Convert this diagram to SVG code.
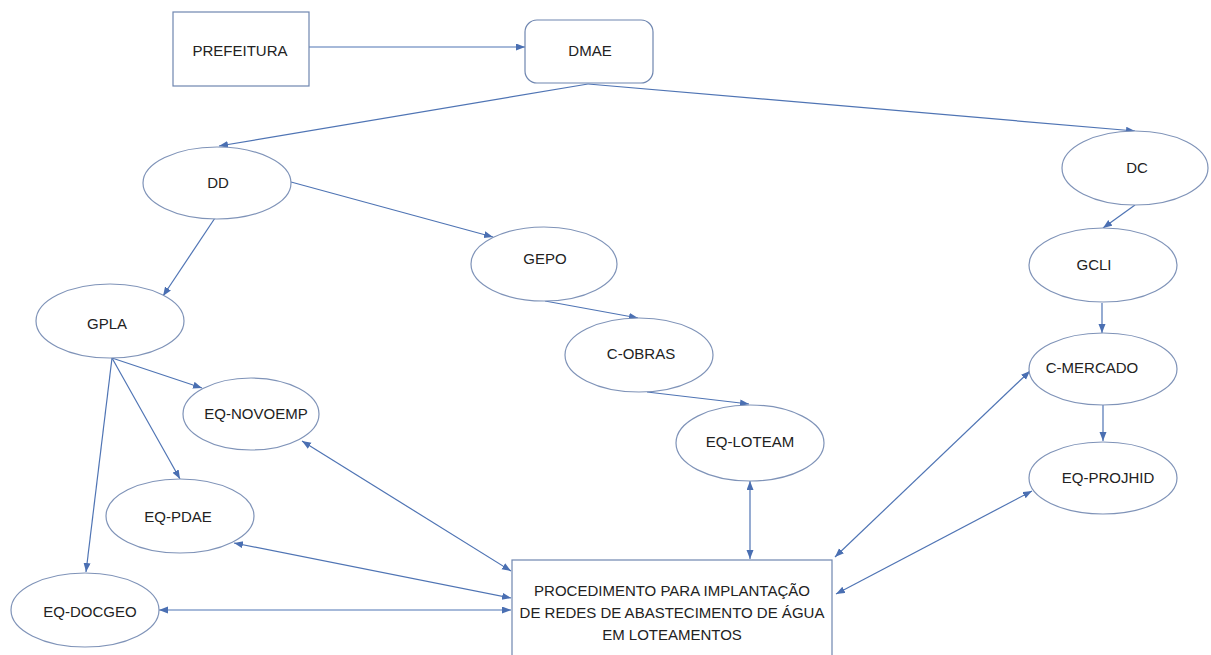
<svg xmlns="http://www.w3.org/2000/svg" width="1211" height="655" viewBox="0 0 1211 655">
  <style>
    .shape { fill: #ffffff; stroke: #7f93b8; stroke-width: 1.2; }
    .box { fill: #ffffff; stroke: #6f86b0; stroke-width: 1.2; }
    .lbl { font-family: "Liberation Sans", Arial, sans-serif; font-size: 15px; fill: #222222; text-anchor: middle; dominant-baseline: central; }
    .edge { fill: none; stroke: #4f74b4; stroke-width: 1.2; }
    .one { marker-end: url(#head); }
    .two { marker-start: url(#head); marker-end: url(#head); }
  </style>
  <defs>
    <marker id="head" markerUnits="userSpaceOnUse" markerWidth="10" markerHeight="8" refX="9" refY="3.5" orient="auto-start-reverse">
      <path d="M0,0 L9,3.5 L0,7 z" fill="#4a6fb2"/>
    </marker>
  </defs>

  <rect width="1211" height="655" fill="#ffffff"/>

  <!-- connectors -->
  <g id="connectors">
    <line class="edge one" x1="309" y1="47" x2="525" y2="47"/>
    <line class="edge one" x1="588" y1="84" x2="219" y2="146"/>
    <line class="edge one" x1="588" y1="84" x2="1135" y2="131"/>
    <line class="edge one" x1="215" y1="218" x2="163" y2="296"/>
    <line class="edge one" x1="291" y1="182" x2="493" y2="237"/>
    <line class="edge one" x1="545" y1="301" x2="638" y2="318"/>
    <line class="edge one" x1="647" y1="392" x2="749" y2="404"/>
    <line class="edge one" x1="1135" y1="205" x2="1103" y2="228"/>
    <line class="edge one" x1="1102" y1="303" x2="1102" y2="333"/>
    <line class="edge one" x1="1103" y1="405" x2="1103" y2="441"/>
    <line class="edge one" x1="112" y1="358" x2="202" y2="388"/>
    <line class="edge one" x1="112" y1="358" x2="180" y2="479"/>
    <line class="edge one" x1="112" y1="358" x2="86" y2="572"/>
    <line class="edge two" x1="302" y1="441" x2="511" y2="571"/>
    <line class="edge two" x1="234" y1="543" x2="511" y2="598"/>
    <line class="edge two" x1="159" y1="610" x2="511" y2="610"/>
    <line class="edge two" x1="750" y1="481" x2="750" y2="559"/>
    <line class="edge two" x1="835" y1="557" x2="1030" y2="371"/>
    <line class="edge two" x1="836" y1="594" x2="1032" y2="491"/>
  </g>

  <g id="prefeitura">
    <rect class="box" x="173" y="12" width="136" height="74"/>
    <text class="lbl" x="240" y="50">PREFEITURA</text>
  </g>
  <g id="dmae">
    <rect class="box" x="525" y="20" width="128" height="63" rx="12" ry="12"/>
    <text class="lbl" x="590" y="50">DMAE</text>
  </g>
  <g id="dd">
    <ellipse class="shape" cx="217" cy="183" rx="74" ry="36"/>
    <text class="lbl" x="218" y="182">DD</text>
  </g>
  <g id="dc">
    <ellipse class="shape" cx="1135" cy="168" rx="73" ry="37"/>
    <text class="lbl" x="1137" y="167">DC</text>
  </g>
  <g id="gpla">
    <ellipse class="shape" cx="110" cy="321" rx="74" ry="37"/>
    <text class="lbl" x="107" y="323">GPLA</text>
  </g>
  <g id="gepo">
    <ellipse class="shape" cx="544" cy="264" rx="73" ry="37"/>
    <text class="lbl" x="545" y="258">GEPO</text>
  </g>
  <g id="c-obras">
    <ellipse class="shape" cx="639" cy="355" rx="74" ry="37"/>
    <text class="lbl" x="641" y="353">C-OBRAS</text>
  </g>
  <g id="eq-loteam">
    <ellipse class="shape" cx="750" cy="443" rx="74" ry="38"/>
    <text class="lbl" x="750" y="441">EQ-LOTEAM</text>
  </g>
  <g id="gcli">
    <ellipse class="shape" cx="1103" cy="265" rx="74" ry="37"/>
    <text class="lbl" x="1094" y="264">GCLI</text>
  </g>
  <g id="c-mercado">
    <ellipse class="shape" cx="1103" cy="369" rx="74" ry="36"/>
    <text class="lbl" x="1092" y="367">C-MERCADO</text>
  </g>
  <g id="eq-projhid">
    <ellipse class="shape" cx="1103" cy="478" rx="74" ry="36"/>
    <text class="lbl" x="1108" y="477">EQ-PROJHID</text>
  </g>
  <g id="eq-novoemp">
    <ellipse class="shape" cx="251" cy="414" rx="68" ry="36"/>
    <text class="lbl" x="256" y="413">EQ-NOVOEMP</text>
  </g>
  <g id="eq-pdae">
    <ellipse class="shape" cx="180" cy="516" rx="74" ry="37"/>
    <text class="lbl" x="178" y="516">EQ-PDAE</text>
  </g>
  <g id="eq-docgeo">
    <ellipse class="shape" cx="85" cy="610" rx="74" ry="37"/>
    <text class="lbl" x="90" y="611">EQ-DOCGEO</text>
  </g>
  <g id="procedimento">
    <rect class="box" x="512" y="560" width="320" height="110"/>
    <text class="lbl" x="672" y="590">PROCEDIMENTO PARA IMPLANTAÇÃO</text>
    <text class="lbl" x="672" y="612">DE REDES DE ABASTECIMENTO DE ÁGUA</text>
    <text class="lbl" x="672" y="634">EM LOTEAMENTOS</text>
  </g>
</svg>
